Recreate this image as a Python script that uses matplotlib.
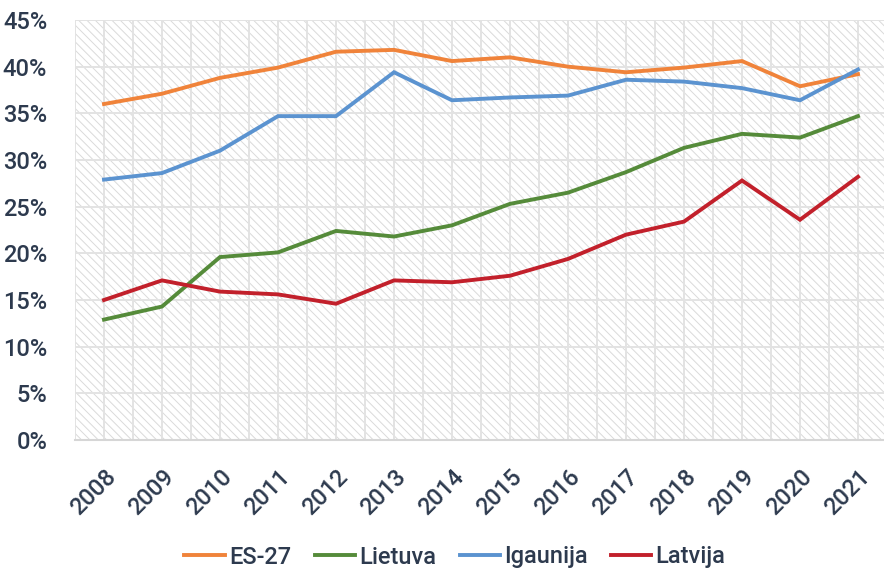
import numpy as np
import matplotlib.pyplot as plt
from matplotlib.patches import Rectangle
from matplotlib.ticker import PercentFormatter

plt.rcParams.update({
    "font.family": ["Roboto", "DejaVu Sans"],
    "font.size": 17,
    "hatch.color": "#dadada",
    "hatch.linewidth": 0.7,
})

years = [str(y) for y in range(2008, 2022)]
es27 = [36.0, 37.1, 38.8, 39.9, 41.6, 41.8, 40.6, 41.0, 40.0, 39.4, 39.9, 40.6, 37.9, 39.2]
lietuva = [12.9, 14.3, 19.6, 20.1, 22.4, 21.8, 23.0, 25.3, 26.5, 28.7, 31.3, 32.8, 32.4, 34.7]
igaunija = [27.9, 28.6, 31.0, 34.7, 34.7, 39.4, 36.4, 36.7, 36.9, 38.6, 38.4, 37.7, 36.4, 39.7]
latvija = [15.0, 17.1, 15.9, 15.6, 14.6, 17.1, 16.9, 17.6, 19.4, 22.0, 23.4, 27.8, 23.6, 28.2]

series = [
    ("ES-27", es27, "#f0833a"),
    ("Lietuva", lietuva, "#558b3a"),
    ("Igaunija", igaunija, "#5b93d0"),
    ("Latvija", latvija, "#c2202b"),
]
text_col = "#2d3a4e"

fig = plt.figure(figsize=(8.84, 5.71), dpi=100)
ax = fig.add_axes([75 / 884, 131 / 571, 812 / 884, 420 / 571])

# hatched plot background
ax.add_patch(Rectangle((0, 0), 1, 1, transform=ax.transAxes, facecolor="white",
                       edgecolor="#dadada", hatch="\\\\\\\\", linewidth=0, zorder=0.1))

x = np.arange(len(years))
for name, vals, col in series:
    ax.plot(x, vals, color=col, lw=2.8, label=name, zorder=3, solid_joinstyle="miter")

ax.set_xlim(-0.5, 13.5)
ax.set_ylim(0, 45)
ax.set_yticks(np.arange(0, 46, 5))
ax.yaxis.set_major_formatter(PercentFormatter(decimals=0))
ax.set_xticks(x)
ax.set_xticklabels(years, rotation=45, ha="right", rotation_mode="anchor")
ax.set_xticks(np.arange(-0.5, 14, 1), minor=True)

ax.set_axisbelow(True)
ax.grid(axis="y", color="#e3e3e3", lw=1.4, zorder=0.5)
ax.grid(axis="x", which="both", color="#e3e3e3", lw=1.4, zorder=0.5)
ax.tick_params(axis="both", which="both", length=0, colors=text_col, labelsize=17)
ax.tick_params(axis="y", pad=20)
ax.tick_params(axis="x", pad=18)
for lab in ax.get_xticklabels() + ax.get_yticklabels():
    lab.set_fontweight("medium")

for s in ["top", "right", "left"]:
    ax.spines[s].set_visible(False)
ax.spines["bottom"].set_color("#d6d6d6")
ax.spines["bottom"].set_linewidth(1.5)

leg = fig.legend(loc="center", bbox_to_anchor=(455 / 884, 1 - 557 / 571), ncol=4,
                 frameon=False, handlelength=1.7, handletextpad=0.18, columnspacing=1.0,
                 fontsize=17)
for t in leg.get_texts():
    t.set_color(text_col)
    t.set_fontweight("medium")

fig.savefig("out.png", dpi=100)
